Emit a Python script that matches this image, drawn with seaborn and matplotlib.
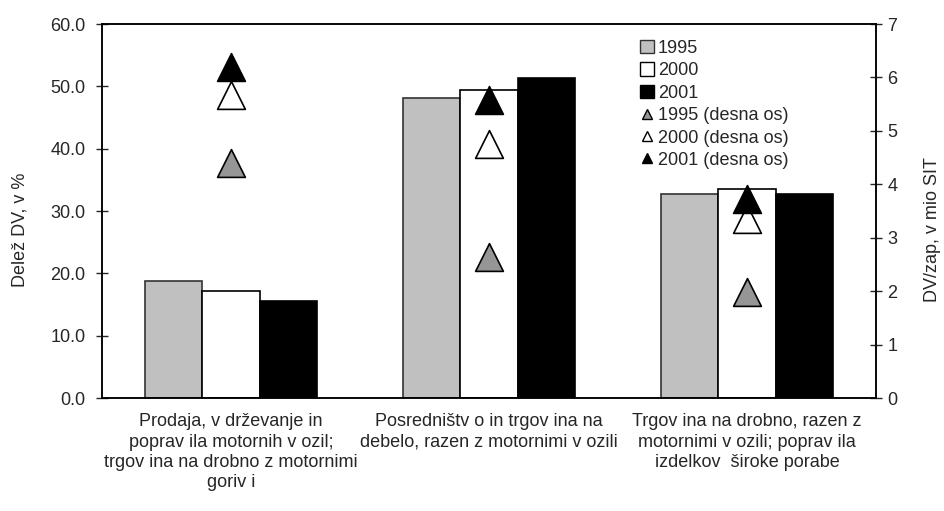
import seaborn as sns
import matplotlib.pyplot as plt
import numpy as np
import pandas as pd
from matplotlib.patches import Patch
from matplotlib.lines import Line2D
from matplotlib.ticker import FormatStrFormatter, MultipleLocator

# categories (x axis)
categories = [
    "Prodaja, v drževanje in\npoprav ila motornih v ozil;\ntrgov ina na drobno z motornimi\ngoriv i",
    "Posredništv o in trgov ina na\ndebelo, razen z motornimi v ozili",
    "Trgov ina na drobno, razen z\nmotornimi v ozili; poprav ila\nizdelkov  široke porabe",
]
years = ["1995", "2000", "2001"]

# share of value added, % (left axis, bars)
share_1995 = [18.8, 48.2, 32.8]
share_2000 = [17.2, 49.4, 33.5]
share_2001 = [15.6, 51.3, 32.7]

# value added per employee, mio SIT (right axis, triangles)
dv_1995 = [4.39, 2.64, 1.98]
dv_2000 = [5.67, 4.76, 3.35]
dv_2001 = [6.19, 5.58, 3.73]

bar_colors = ["#c0c0c0", "#ffffff", "#000000"]
bar_edges = ["#333333", "#000000", "#000000"]
tri_colors = ["#969696", "#ffffff", "#000000"]

sns.set_style("white")
plt.rcParams['font.family'] = ['Liberation Sans', 'DejaVu Sans']
FS = 13

df = pd.DataFrame({
    "kategorija": np.repeat(categories, 3),
    "leto": years * 3,
    "delez": [v for trio in zip(share_1995, share_2000, share_2001) for v in trio],
})

fig = plt.figure(figsize=(9.44, 5.11), dpi=100)
ax = fig.add_axes([0.108, 0.221, 0.820, 0.732])

sns.barplot(data=df, x="kategorija", y="delez", hue="leto", order=categories,
            hue_order=years, palette=bar_colors, width=0.67, ax=ax,
            legend=False, errorbar=None, linewidth=1.2, edgecolor="black")

# fix the edge colour per year (gray bars have a softer edge)
for cont, ec in zip(ax.containers, bar_edges):
    for bar in cont:
        bar.set_edgecolor(ec)

ax.set_ylim(0, 60)
ax.set_xlim(-0.5, 2.5)
ax.yaxis.set_major_locator(MultipleLocator(10))
ax.yaxis.set_major_formatter(FormatStrFormatter('%.1f'))
ax.set_xlabel("")
ax.set_ylabel("Delež DV, v %", fontsize=FS)
ax.yaxis.label.set_va("center")
ax.yaxis.set_label_coords(-0.106, 0.45)

# category ticks: labels in the middle, tick marks on the borders
ax.set_xticks(range(len(categories)))
ax.set_xticklabels(categories, fontsize=FS, linespacing=1.25)
ax.set_xticks([-0.5, 0.5, 1.5, 2.5], minor=True)
ax.tick_params(axis="x", which="major", length=0, pad=11)
ax.tick_params(axis="x", which="minor", length=8, direction="inout", width=1)
ax.tick_params(axis="y", length=8, direction="inout", width=1, labelsize=FS, pad=8)

for sp in ax.spines.values():
    sp.set_color("black")
    sp.set_linewidth(1.1)

# right axis with triangles
ax2 = ax.twinx()
xpos = np.arange(len(categories))
for vals, col in zip([dv_1995, dv_2000, dv_2001], tri_colors):
    sns.scatterplot(x=xpos, y=vals, marker="^", s=400, color=col,
                    edgecolor="black", linewidth=1.2, ax=ax2, zorder=3)
ax2.set_ylim(0, 7)
ax2.yaxis.set_major_locator(MultipleLocator(1))
ax2.set_ylabel("DV/zap, v mio SIT", fontsize=FS, rotation=90)
ax2.yaxis.label.set_va("center")
ax2.yaxis.set_label_coords(1.073, 0.45)
ax2.tick_params(axis="y", length=8, direction="inout", width=1, labelsize=FS, pad=4)
for sp in ax2.spines.values():
    sp.set_color("black")
    sp.set_linewidth(1.1)

handles = [Patch(facecolor=c, edgecolor=e, linewidth=1) for c, e in zip(bar_colors, bar_edges)]
handles += [Line2D([], [], linestyle="none", marker="^", markersize=7.5,
                   markerfacecolor=c, markeredgecolor="black") for c in tri_colors]
labels = years + [y + " (desna os)" for y in years]
ax2.legend(handles, labels, loc="upper left", bbox_to_anchor=(0.678, 0.922),
           bbox_transform=fig.transFigure, frameon=False, fontsize=FS,
           handlelength=0.75, handleheight=0.75, handletextpad=0.25,
           labelspacing=0.3, borderpad=0, borderaxespad=0)

fig.savefig("out.png", dpi=100)
